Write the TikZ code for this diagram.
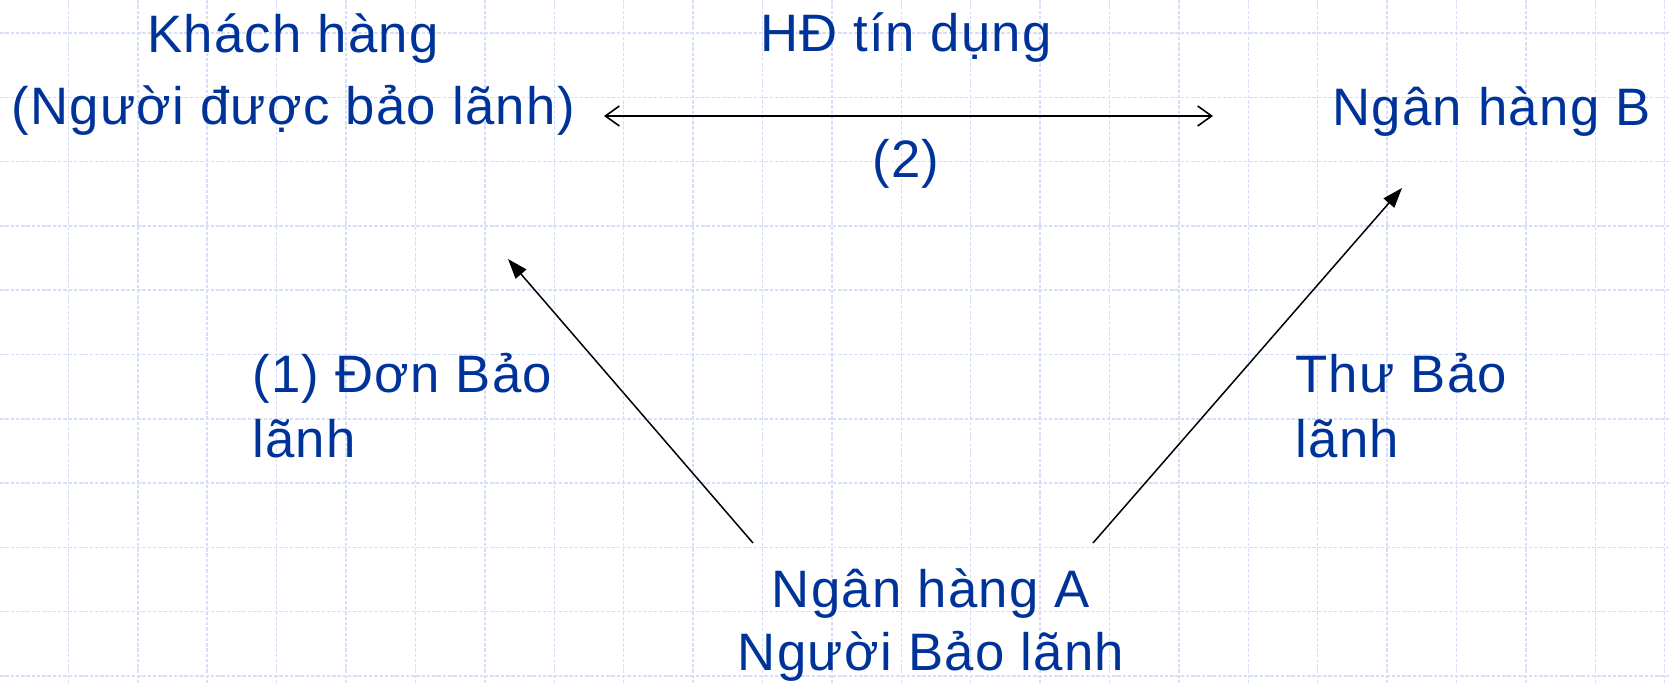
\documentclass[tikz,border=0pt]{standalone}
\usepackage{fontspec}
\setmainfont{Liberation Sans}[LetterSpace=2.5]
\usetikzlibrary{arrows.meta}
\definecolor{tinte}{HTML}{003399}
\definecolor{raster}{HTML}{D6DEF8}
\tikzset{
  gitter/.style={raster,line width=0.8pt,dash pattern=on 2pt off 1pt},
  txt/.style={tinte,font=\fontsize{30}{37}\selectfont,inner sep=0pt},
  pfeil/.style={-{Triangle[length=4mm,width=2.8mm]},line width=0.85pt},
  dpfeil/.style={{Straight Barb[length=2.8mm,width=4mm]}-{Straight Barb[length=2.8mm,width=4mm]},line width=0.9pt},
}
\begin{document}
\begin{tikzpicture}[x=0.02cm,y=-0.02cm]
  \useasboundingbox[fill=white] (0,0) rectangle (1670,685);
  % Raster
  \foreach \i in {1,...,24} \draw[gitter] ({-1+69.4*\i},0) -- ({-1+69.4*\i},685);
  \foreach \j in {0,...,10} \draw[gitter] (0,{33+64.3*\j}) -- (1670,{33+64.3*\j});
  % Beteiligte (base = letzte Zeile)
  \node[txt,align=center,anchor=base,font=\fontsize{30}{41.5}\selectfont] (kunde) at (293,125) {Khách hàng\\(Người được bảo lãnh)};
  \node[txt,anchor=base west] (bankB) at (1332,126) {Ngân hàng B};
  \node[txt,align=center,anchor=base,font=\fontsize{30}{35.3}\selectfont] (bankA) at (931,670) {Ngân hàng A\\Người Bảo lãnh};
  \node[txt,anchor=base] (vertrag) at (906,52) {HĐ tín dụng};
  \node[txt,anchor=base] (zwei) at (906,178) {(2)};
  \node[txt,align=left,anchor=base west] (antrag) at (252,458) {(1) Đơn Bảo\\lãnh};
  \node[txt,align=left,anchor=base west] (brief) at (1295,458) {Thư Bảo\\lãnh};
  % Pfeile
  \coordinate (kundeR) at (604,116);
  \coordinate (bankBL) at (1213,116);
  \coordinate (aLinks) at (753,543);
  \coordinate (aRechts) at (1093,543);
  \coordinate (kundeU) at (508,259);
  \coordinate (bankBU) at (1402,188);
  \draw[dpfeil] (kundeR) -- (bankBL);
  \draw[pfeil] (aLinks) -- (kundeU);
  \draw[pfeil] (aRechts) -- (bankBU);
\end{tikzpicture}
\end{document}
